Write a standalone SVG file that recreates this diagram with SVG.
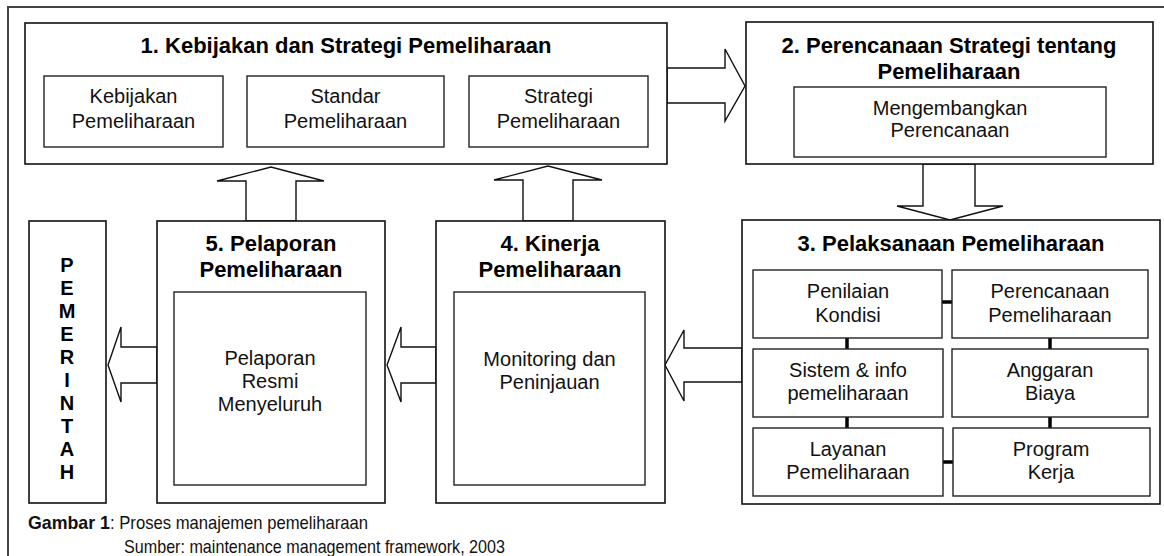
<svg xmlns="http://www.w3.org/2000/svg" width="1164" height="556" viewBox="0 0 1164 556">
<style>
.box{fill:#fff;stroke:#111;stroke-width:1.6}
.sub{fill:#fff;stroke:#222;stroke-width:1.4}
.arr{fill:#fff;stroke:#111;stroke-width:1.4;stroke-linejoin:miter}
.link{stroke:#000;stroke-width:3.5}
.t{font-family:"Liberation Sans",Arial,Helvetica,sans-serif;font-size:20px;fill:#111;text-anchor:middle}
.b{font-family:"Liberation Sans",Arial,Helvetica,sans-serif;font-size:22px;font-weight:bold;fill:#000;text-anchor:middle}
.v{font-family:"Liberation Sans",Arial,Helvetica,sans-serif;font-size:20px;font-weight:bold;fill:#000;text-anchor:middle}
.cap{font-family:"Liberation Sans",Arial,Helvetica,sans-serif;font-size:19px;fill:#111}
</style>
<rect width="1164" height="556" fill="#fff"/>
<rect x="8" y="7" width="1170" height="570" fill="none" stroke="#444" stroke-width="2"/>

<g id="connectors">
<polygon class="arr" points="667,68 725,68 725,49 745,86 725,121 725,103 667,103"/>
<polygon class="arr" points="923,164 923,206 897,206 950,220 1003,206 975,206 975,164"/>
<polygon class="arr" points="742,348 684,348 684,330 665,365 684,401 684,382 742,382"/>
<polygon class="arr" points="436,347 401,347 401,327 387,365 401,402 401,383 436,383"/>
<polygon class="arr" points="157,347 121,347 121,327 108,365 121,402 121,383 157,383"/>
<polygon class="arr" points="523,221 523,180 494,180 548,166 602,180 573,180 573,221"/>
<polygon class="arr" points="246,221 246,181 217,181 271,167 324,181 296,181 296,221"/>
</g>

<g id="node1">
<rect class="box" x="25" y="23" width="642" height="141"/>
<text class="b" x="346" y="53">1. Kebijakan dan Strategi Pemeliharaan</text>
<rect class="sub" x="44" y="76" width="179" height="71"/>
<text class="t" x="133.5" y="103">Kebijakan</text>
<text class="t" x="133.5" y="128">Pemeliharaan</text>
<rect class="sub" x="247" y="76" width="197" height="71"/>
<text class="t" x="345.5" y="103">Standar</text>
<text class="t" x="345.5" y="128">Pemeliharaan</text>
<rect class="sub" x="469" y="76" width="179" height="71"/>
<text class="t" x="558.5" y="103">Strategi</text>
<text class="t" x="558.5" y="128">Pemeliharaan</text>
</g>

<g id="node2">
<rect class="box" x="746" y="22" width="407" height="142"/>
<text class="b" x="949" y="53">2. Perencanaan Strategi tentang</text>
<text class="b" x="949" y="79">Pemeliharaan</text>
<rect class="sub" x="794" y="87" width="312" height="70"/>
<text class="t" x="950" y="115">Mengembangkan</text>
<text class="t" x="950" y="137">Perencanaan</text>
</g>

<g id="node3">
<rect class="box" x="742" y="220" width="418" height="284"/>
<text class="b" x="951" y="251">3. Pelaksanaan Pemeliharaan</text>
<line class="link" x1="942" y1="302" x2="952" y2="302"/>
<line class="link" x1="847" y1="338" x2="847" y2="349"/>
<line class="link" x1="1050" y1="338" x2="1050" y2="349"/>
<line class="link" x1="847" y1="417" x2="847" y2="428"/>
<line class="link" x1="1050" y1="417" x2="1050" y2="428"/>
<line class="link" x1="943" y1="462" x2="953" y2="462"/>
<rect class="sub" x="753" y="270" width="189" height="68"/>
<text class="t" x="848" y="298">Penilaian</text>
<text class="t" x="848" y="322">Kondisi</text>
<rect class="sub" x="952" y="270" width="196" height="68"/>
<text class="t" x="1050" y="298">Perencanaan</text>
<text class="t" x="1050" y="322">Pemeliharaan</text>
<rect class="sub" x="753" y="349" width="190" height="68"/>
<text class="t" x="848" y="377">Sistem &amp; info</text>
<text class="t" x="848" y="400">pemeliharaan</text>
<rect class="sub" x="952" y="349" width="196" height="68"/>
<text class="t" x="1050" y="377">Anggaran</text>
<text class="t" x="1050" y="400">Biaya</text>
<rect class="sub" x="753" y="428" width="190" height="68"/>
<text class="t" x="848" y="456">Layanan</text>
<text class="t" x="848" y="479">Pemeliharaan</text>
<rect class="sub" x="953" y="428" width="197" height="68"/>
<text class="t" x="1051" y="456">Program</text>
<text class="t" x="1051" y="479">Kerja</text>
</g>

<g id="node4">
<rect class="box" x="436" y="221" width="229" height="282"/>
<text class="b" x="550" y="251">4. Kinerja</text>
<text class="b" x="550" y="277">Pemeliharaan</text>
<rect class="sub" x="454" y="292" width="191" height="193"/>
<text class="t" x="549.5" y="366">Monitoring dan</text>
<text class="t" x="549.5" y="389">Peninjauan</text>
</g>

<g id="node5">
<rect class="box" x="157" y="221" width="228" height="282"/>
<text class="b" x="271" y="251">5. Pelaporan</text>
<text class="b" x="271" y="277">Pemeliharaan</text>
<rect class="sub" x="174" y="292" width="192" height="193"/>
<text class="t" x="270" y="365">Pelaporan</text>
<text class="t" x="270" y="388">Resmi</text>
<text class="t" x="270" y="411">Menyeluruh</text>
</g>

<g id="pemerintah">
<rect class="box" x="29" y="221" width="77" height="282"/>
<text class="v" x="67" y="272">P</text>
<text class="v" x="67" y="295">E</text>
<text class="v" x="67" y="318">M</text>
<text class="v" x="67" y="341">E</text>
<text class="v" x="67" y="364">R</text>
<text class="v" x="67" y="387">I</text>
<text class="v" x="67" y="410">N</text>
<text class="v" x="67" y="433">T</text>
<text class="v" x="67" y="456">A</text>
<text class="v" x="67" y="479">H</text>
</g>

<g id="caption">
<text class="cap" x="28" y="529" font-weight="bold" textLength="82" lengthAdjust="spacingAndGlyphs">Gambar 1</text>
<text class="cap" x="110" y="529" textLength="258" lengthAdjust="spacingAndGlyphs">: Proses manajemen pemeliharaan</text>
<text class="cap" x="124" y="553" textLength="381" lengthAdjust="spacingAndGlyphs">Sumber: maintenance management framework, 2003</text>
</g>
</svg>
